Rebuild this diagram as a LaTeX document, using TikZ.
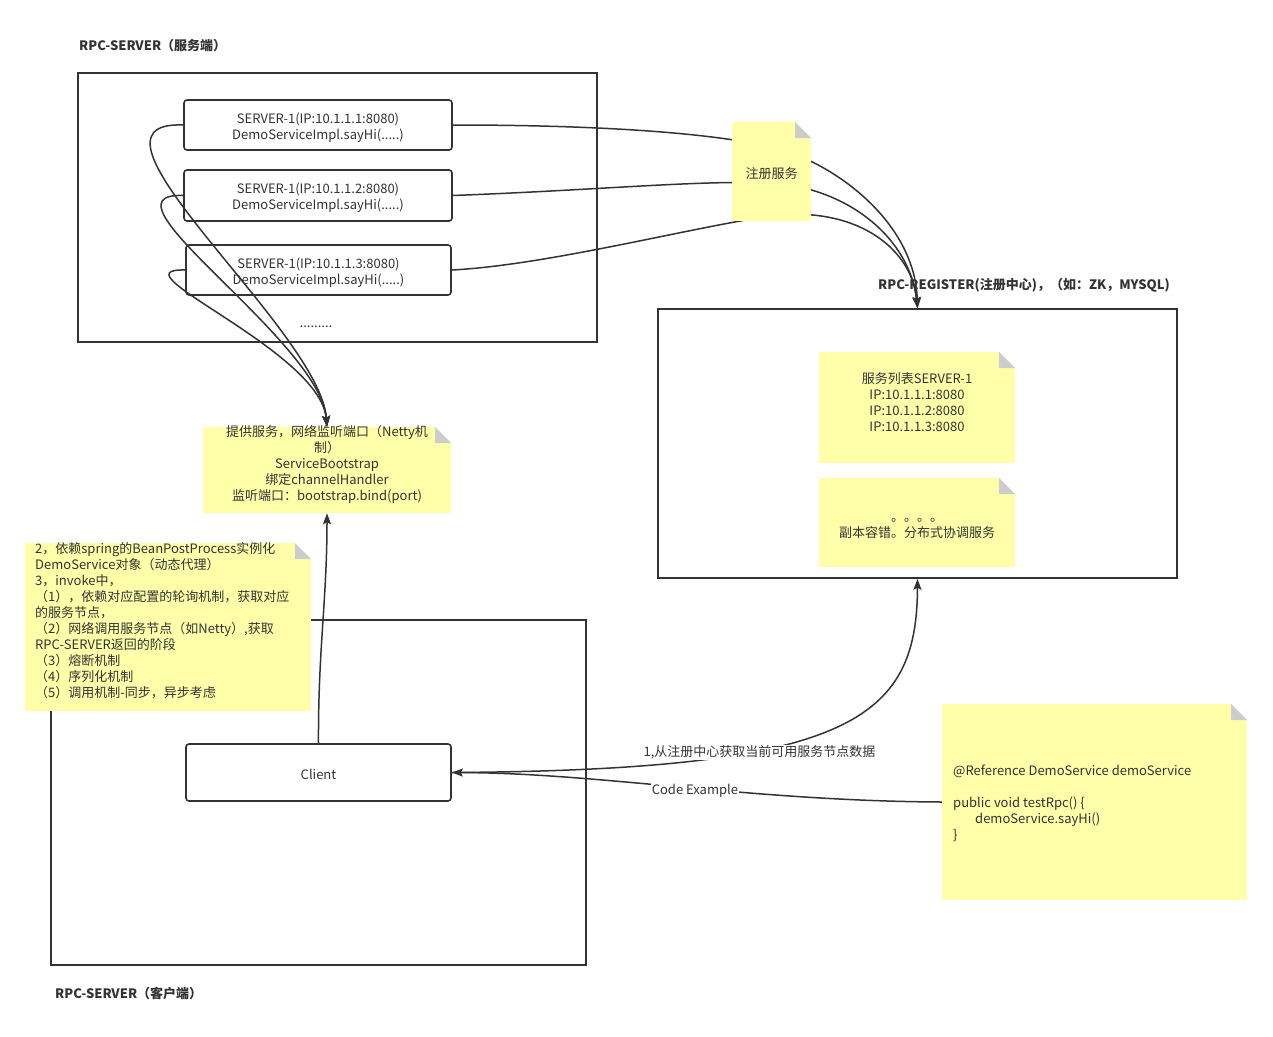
\documentclass[tikz,border=0pt]{standalone}
\usepackage{fontspec}
\setmainfont{Noto Sans CJK SC}
\usetikzlibrary{arrows.meta,positioning}
\definecolor{ink}{HTML}{333333}
\definecolor{notefill}{HTML}{FFFFAA}
\definecolor{foldgray}{HTML}{CCCCCC}
% push text down inside a box by #1
\newcommand\lowered[2]{\raisebox{0pt}[\dimexpr\height+#1\relax][\depth]{#2}}
\newcommand\boxlines[1]{\lowered{6pt}{\begin{tabular}{@{}c@{}}#1\end{tabular}}}

\begin{document}
\begin{tikzpicture}[x=1pt,y=-1pt,font=\fontsize{13}{16}\selectfont,text=ink]
  \tikzset{frame/.style={draw=ink,line width=1.6pt,inner sep=0pt},
    srv/.style={draw=ink,fill=white,line width=1.6pt,rounded corners=3pt,
      inner sep=0pt,align=center,minimum height=#1},
    srv/.default=50pt,
    note/.style={fill=notefill,inner sep=0pt,path picture={
      \fill[white] ([xshift=-16pt]path picture bounding box.north east)
        -- (path picture bounding box.north east)
        -- ([yshift=-16pt]path picture bounding box.north east) -- cycle;
      \fill[foldgray] ([xshift=-16pt]path picture bounding box.north east)
        -- ([yshift=-16pt]path picture bounding box.north east)
        -- ([xshift=-16pt,yshift=-16pt]path picture bounding box.north east) -- cycle;}},
    title/.style={font=\fontsize{13}{16}\selectfont\bfseries,anchor=west,inner sep=0pt},
    edge/.style={draw=ink,line width=1.5pt},
    tip/.style={-{Stealth[length=11pt,width=8pt,inset=2pt]}},
    lbl/.style={fill=white,inner sep=1pt}}
  \useasboundingbox (0,0) rectangle (1273,1036);

  % server side
  \node[title] (srvtitle) at (79,46) {RPC-SERVER（服务端）};
  \node[frame,minimum width=519pt,minimum height=269pt] (srvframe) at (337.5,207.5) {};
  \node[srv,minimum width=268pt] (s1) at (318,125) {\boxlines{SERVER-1(IP:10.1.1.1:8080)\\DemoServiceImpl.sayHi(.....)}};
  \node[srv=51pt,minimum width=268pt] (s2) at (318,195.5) {\boxlines{SERVER-1(IP:10.1.1.2:8080)\\DemoServiceImpl.sayHi(.....)}};
  \node[srv,minimum width=265pt] (s3) at (318.5,270) {\boxlines{SERVER-1(IP:10.1.1.3:8080)\\DemoServiceImpl.sayHi(.....)}};
  \node (more) at (316,327) {.........};

  % bootstrap note
  \node[note,minimum width=248pt,minimum height=86pt] (prov) at (327,470) {};
  \node[align=center,inner sep=0pt,below=-2pt of prov.north] (provtxt)
    {提供服务，网络监听端口（Netty机\\制）\\ServiceBootstrap\\绑定channelHandler\\监听端口：bootstrap.bind(port)};

  \draw[edge,tip] (s1.west) .. controls (60,120) and (320,330) .. (prov.north);
  \draw[edge,tip] (s2.west) .. controls (90,192) and (320,340) .. (prov.north);
  \draw[edge,tip] (s3.west) .. controls (110,268) and (320,350) .. (prov.north);

  % register side
  \node[title] (regtitle) at (878,285) {RPC-REGISTER(注册中心)，（如：ZK，MYSQL)};
  \node[frame,minimum width=519pt,minimum height=269pt] (reg) at (917.5,443.5) {};
  \node[note,minimum width=196pt,minimum height=111pt] (list) at (917,407.5) {};
  \node[align=center,inner sep=0pt,below=21pt of list.north] (listtxt)
    {服务列表SERVER-1\\IP:10.1.1.1:8080\\IP:10.1.1.2:8080\\IP:10.1.1.3:8080};
  \node[note,minimum width=196pt,minimum height=89pt] (copy) at (917,522.5) {};
  \node[align=center,inner sep=0pt] (copytxt) at (917,528) {。。。。\\副本容错。分布式协调服务};

  \draw[edge,tip] (s1.east) .. controls (620,125) and (720,135) .. (771,147)
    .. controls (830,160) and (915,220) .. (reg.north);
  \draw[edge,tip] (s2.east) .. controls (600,190) and (700,180) .. (771,183)
    .. controls (850,188) and (910,240) .. (reg.north);
  \draw[edge,tip] (s3.east) .. controls (550,265) and (700,225) .. (778,215)
    .. controls (860,208) and (912,250) .. (reg.north);
  \node[note,minimum width=79pt,minimum height=99pt] (regsvc) at (771.5,171.5) {\lowered{4pt}{注册服务}};

  % client side
  \node[frame,minimum width=535pt,minimum height=345pt] (cliframe) at (318.5,792.5) {};
  \node[title] (clititle) at (55,994) {RPC-SERVER（客户端）};
  \node[note,minimum width=286pt,minimum height=168pt] (steps) at (168,627) {};
  \node[align=left,anchor=north west,inner sep=0pt] (stepstxt) at (35,542)
    {2，依赖spring的BeanPostProcess实例化\\DemoService对象（动态代理）\\3，invoke中，\\（1），依赖对应配置的轮询机制，获取对应\\的服务节点，\\（2）网络调用服务节点（如Netty）,获取\\RPC-SERVER返回的阶段\\（3）熔断机制\\（4）序列化机制\\（5）调用机制-同步，异步考虑};
  \node[srv=57pt,minimum width=265pt] (client) at (318.5,772.5) {\lowered{4pt}{Client}};
  \node[note,minimum width=305pt,minimum height=196pt] (code) at (1094.5,802) {};
  \node[align=left,anchor=north west,inner sep=0pt] (codetxt) at (953,765)
    {@Reference DemoService demoService\\[16pt]public void testRpc() \{\\\hspace*{22pt}demoService.sayHi()\\\}};

  \draw[edge,tip] (client.north) .. controls (318,650) and (327,600) .. (prov.south);
  \draw[edge,tip] (client.east) .. controls (850,770) and (917,720) .. (reg.south)
    node[lbl,pos=0.35,yshift=-2pt] {1,从注册中心获取当前可用服务节点数据};
  \draw[edge,tip] (code.west) .. controls (750,801) and (600,773) .. (client.east)
    node[lbl,pos=0.47,yshift=-2pt] {Code Example};
\end{tikzpicture}
\end{document}
